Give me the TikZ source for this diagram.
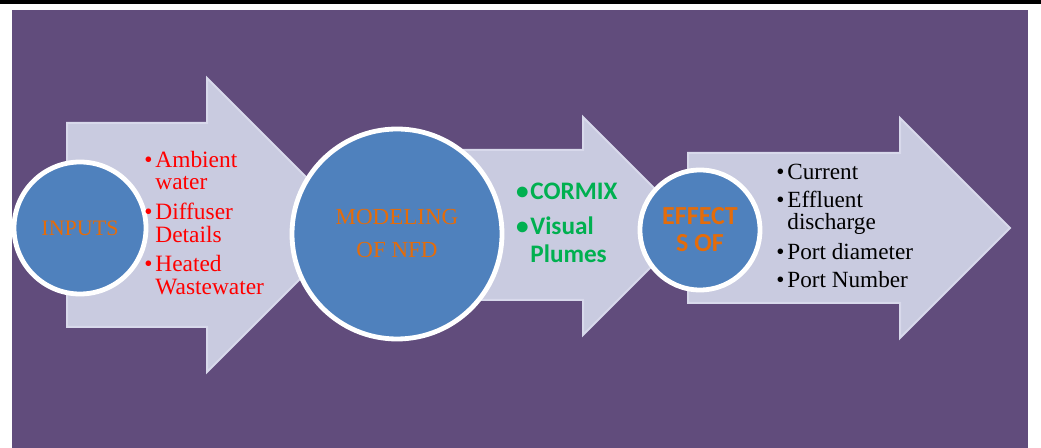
\documentclass[tikz,border=0pt]{standalone}
\usepackage{fontspec}
\setmainfont{Liberation Serif}
\newfontfamily\calibfont{Carlito}
\usetikzlibrary{positioning}
\definecolor{plumbg}{RGB}{97,76,124}
\definecolor{arrowfill}{RGB}{201,203,224}
\definecolor{arrowedge}{RGB}{216,217,235}
\definecolor{bubbleblue}{RGB}{79,129,189}
\definecolor{labelorange}{RGB}{228,108,10}
\definecolor{listgreen}{RGB}{0,176,80}

\tikzset{
  bigarrow/.style={fill=arrowfill,draw=arrowedge,line width=1pt},
  bubble/.style={circle,fill=bubbleblue,draw=white,line width=2.4pt,
                 inner sep=0pt,text=labelorange,align=center},
  redline/.style={text=red,inner sep=0pt,
                  font=\fontsize{11.7}{11.7}\selectfont},
  greenline/.style={text=listgreen,inner sep=0pt,
                    font=\calibfont\bfseries\fontsize{12.6}{14}\selectfont},
  blackline/.style={text=black,inner sep=0pt,
                    font=\fontsize{11.6}{11.6}\selectfont}
}

\begin{document}
\begin{tikzpicture}[x=0.5pt,y=-0.5pt]
  \useasboundingbox (0,0) rectangle (1041,448);
  % frame and background
  \fill[black] (0,0) rectangle (1041,4);
  \fill[plumbg] (12,10) rectangle (1028,448);

  % block arrows
  \filldraw[bigarrow] (67,123) -- (207,123) -- (207,78) -- (354,225)
    -- (207,372) -- (207,327) -- (67,327) -- cycle;
  \filldraw[bigarrow] (450,150) -- (583,150) -- (583,117) -- (692,226)
    -- (583,335) -- (583,300) -- (450,300) -- cycle;
  \filldraw[bigarrow] (688,153) -- (900,153) -- (900,118) -- (1010,228)
    -- (900,338) -- (900,303) -- (688,303) -- cycle;

  % circles
  \node[bubble,minimum size=66pt,font=\fontsize{11}{13}\selectfont]
    (inputs) at (80,228) {INPUTS};
  \node[bubble,minimum size=105pt,font=\fontsize{11.5}{16.5}\selectfont]
    (modeling) at (397,234) {MODELING\\OF NFD};
  \node[bubble,minimum size=60pt,
        font=\calibfont\bfseries\fontsize{13}{13.5}\selectfont]
    (effects) at (700,230) {EFFECT\\S OF};

  % inputs list
  \foreach \ln/\yy [count=\i] in {Ambient/168,water/190,Diffuser/220,
      Details/243,Heated/272,Wastewater/295}
    \node[redline,anchor=base west] (in-\i) at (155,\yy) {\ln};
  \foreach \yy [count=\i] in {168,220,272}
    \node[redline,anchor=base east] (inb-\i) at (153,\yy) {\textbullet};

  % models list
  \foreach \ln/\yy [count=\i] in {CORMIX/200,Visual/235,Plumes/263}
    \node[greenline,anchor=base west] (mod-\i) at (530,\yy) {\ln};
  \foreach \yy [count=\i] in {200,235}
    \node[greenline,anchor=base east] (modb-\i) at (529,\yy) {\textbullet};

  % effects list
  \foreach \ln/\yy [count=\i] in {Current/180,Effluent/208,discharge/230,
      Port diameter/260,Port Number/288}
    \node[blackline,anchor=base west] (ef-\i) at (787,\yy) {\ln};
  \foreach \yy [count=\i] in {180,208,260,288}
    \node[blackline,anchor=base east] (efb-\i) at (785,\yy) {\textbullet};
\end{tikzpicture}
\end{document}
